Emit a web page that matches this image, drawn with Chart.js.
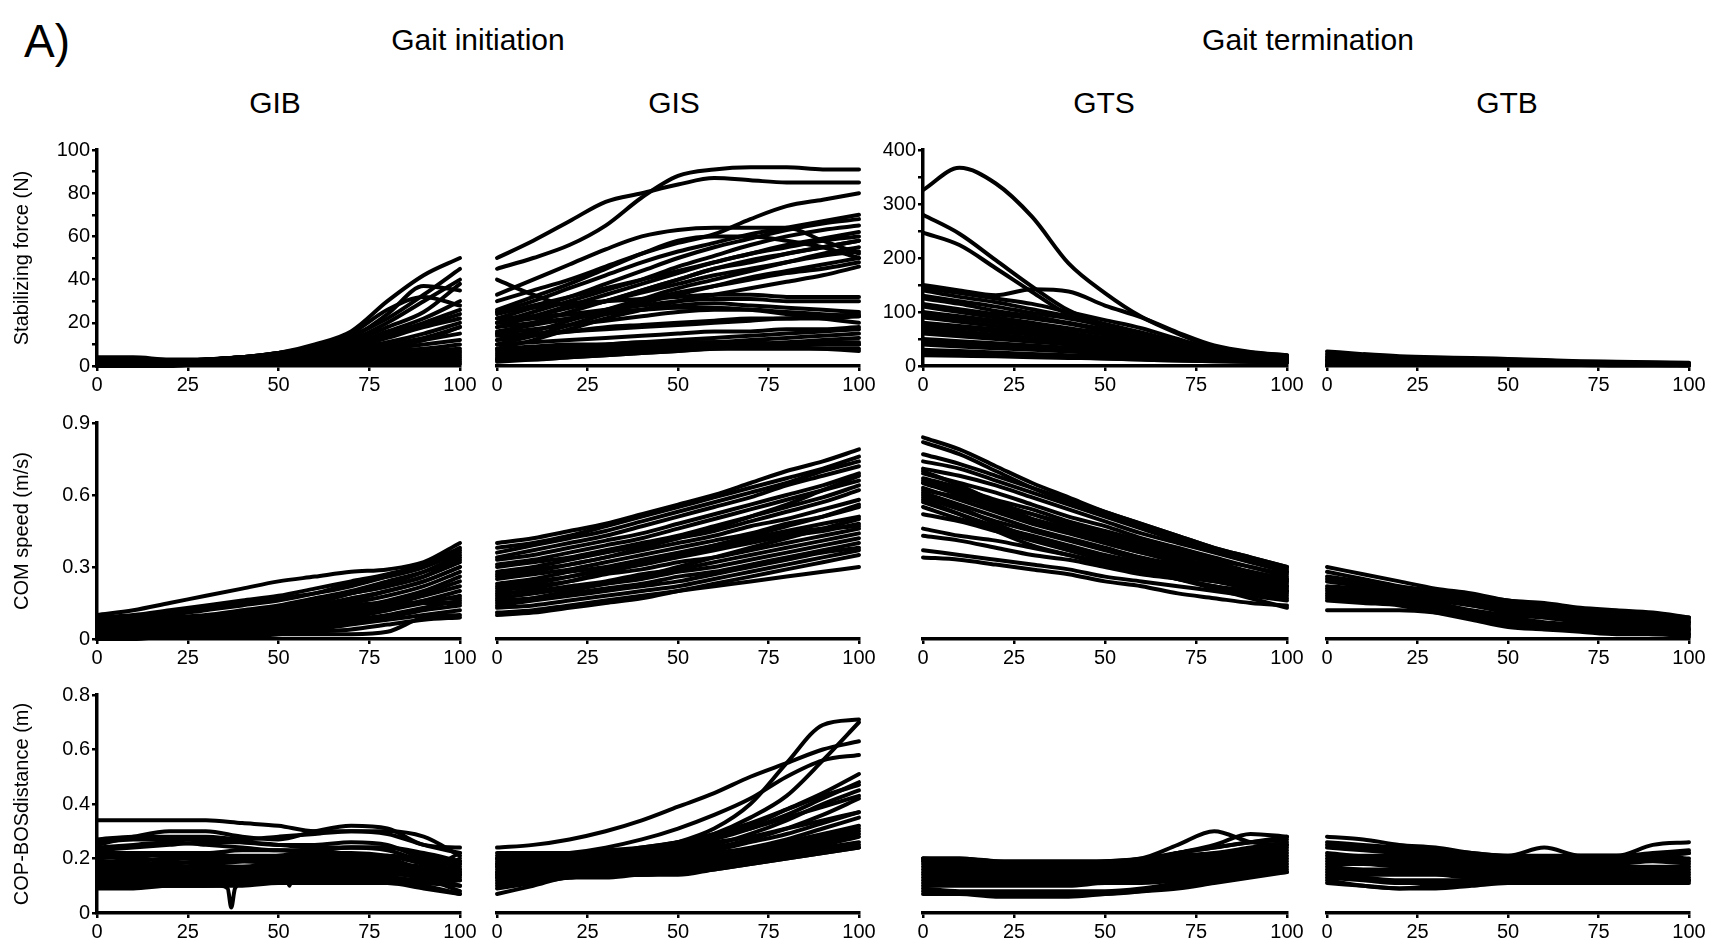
<!DOCTYPE html>
<html lang="en">
<head>
<meta charset="UTF-8">
<title>Gait initiation / termination</title>
<script src="https://cdn.jsdelivr.net/npm/chart.js"></script>
<style>
  body { margin: 0; background: #fff; }
  #fig { position: relative; width: 1722px; height: 950px; overflow: hidden;
         font-family: "Liberation Sans", Arial, sans-serif; color: #000; }
  .txt { position: absolute; line-height: 1; white-space: nowrap; }
  .mid { transform: translateX(-50%); }
  #fig canvas { position: absolute; }
</style>
</head>
<body>
<div id="fig">
  <div class="txt" style="left:24px; top:18px; font-size:46px;">A)</div>
  <div class="txt mid" style="left:478px; top:25px; font-size:30px;">Gait initiation</div>
  <div class="txt mid" style="left:1308px; top:25px; font-size:30px;">Gait termination</div>
  <div class="txt mid" style="left:275px; top:88px; font-size:30px;">GIB</div>
  <div class="txt mid" style="left:674px; top:88px; font-size:30px;">GIS</div>
  <div class="txt mid" style="left:1104px; top:88px; font-size:30px;">GTS</div>
  <div class="txt mid" style="left:1507px; top:88px; font-size:30px;">GTB</div>
</div>

<script>
// % of the phase, one sample every 10 %
const pct = [0, 10, 20, 30, 40, 50, 60, 70, 80, 90, 100];
const cycleTicks = [0, 25, 50, 75, 100];

const giForceTicks = [0, 20, 40, 60, 80, 100];
const giForceMinor = [10, 30, 50, 70, 90];
const gtForceTicks = [0, 100, 200, 300, 400];
const gtForceMinor = [50, 150, 250, 350];
const speedTicks = [0, 0.3, 0.6, 0.9];
const copTicks = [0, 0.2, 0.4, 0.6, 0.8];

// ---- stabilizing force (N) ----
const gibForce = [
  [3,3,2,3,4,6,10,16,30,42,50],
  [2,2,2,3,4,6,9,14,22,33,45],
  [3,3,2,3,4,6,9,15,26,32,28],
  [2,2,2,3,4,6,8,12,20,30,40],
  [2,2,2,3,4,5,8,13,24,37,35],
  [2,2,2,3,4,5,7,11,18,25,38],
  [2,2,2,2,3,5,7,10,16,22,30],
  [2,2,2,2,3,4,6,10,15,20,26],
  [2,2,2,2,3,4,6,9,14,19,24],
  [2,2,2,2,3,4,5,8,13,18,22],
  [1,1,1,2,3,4,5,8,11,15,20],
  [1,1,1,2,2,3,5,7,10,13,18],
  [1,1,1,2,2,3,4,6,9,12,15],
  [1,1,1,2,2,3,4,6,8,10,12],
  [1,1,1,2,2,3,4,5,7,8,10],
  [1,1,1,1,2,3,3,4,6,7,8],
  [1,1,1,1,2,2,3,4,5,6,7],
  [1,1,1,1,2,2,3,3,4,5,6],
  [1,1,1,1,1,2,2,3,4,4,5],
  [1,1,1,1,1,2,2,3,3,4,4],
  [1,1,1,1,1,1,2,2,3,3,3],
  [0,0,1,1,1,1,1,2,2,2,2],
  [0,0,0,1,1,1,1,1,1,1,1],
  [4,4,3,3,4,5,6,8,9,12,18]
];
const gisForce = [
  [45,50,56,65,78,88,91,92,92,91,91],
  [50,58,67,76,80,84,87,86,85,85,85],
  [30,35,40,46,52,57,61,68,74,77,80],
  [40,33,28,30,35,40,45,48,52,55,58],
  [33,40,47,54,60,63,64,64,64,58,52],
  [26,32,38,45,52,58,60,60,58,55,50],
  [25,30,36,42,48,53,57,61,64,67,70],
  [22,27,32,38,44,50,55,59,63,66,68],
  [20,25,30,35,40,46,51,56,60,63,65],
  [18,23,28,33,38,43,48,52,56,59,62],
  [24,28,32,36,40,44,48,52,55,58,60],
  [15,20,25,30,35,40,45,49,52,55,58],
  [12,16,21,26,31,36,40,44,48,52,55],
  [20,23,27,30,34,38,42,45,48,51,53],
  [10,14,19,24,29,33,37,41,44,47,50],
  [16,19,22,26,30,34,37,40,43,45,48],
  [8,12,17,22,26,30,33,36,39,42,46],
  [25,27,29,30,31,32,33,33,32,32,32],
  [20,22,24,26,28,30,31,31,30,30,30],
  [18,20,22,24,26,28,29,28,27,26,25],
  [15,17,19,21,23,25,26,26,25,24,23],
  [22,23,24,25,26,27,27,26,24,22,20],
  [14,15,16,17,18,19,20,21,22,22,23],
  [12,14,16,18,19,20,21,22,22,23,24],
  [10,11,12,13,14,15,16,16,17,17,18],
  [7,8,9,10,11,12,13,14,15,16,17],
  [5,6,7,8,9,10,11,12,13,14,15],
  [3,4,5,6,7,8,9,10,11,12,13],
  [6,7,8,9,10,11,11,11,10,10,10],
  [3,3,4,5,6,7,8,8,8,8,8],
  [4,5,6,7,8,9,10,10,9,8,7],
  [2,3,4,5,6,7,8,9,10,11,11],
  [8,9,10,10,11,11,11,10,10,10,10]
];
const gtsForce = [
  [326,367,338,276,190,135,91,60,35,25,20],
  [280,245,196,147,103,76,57,42,30,22,18],
  [247,224,181,137,95,73,55,40,28,20,16],
  [150,140,131,142,138,112,90,62,38,26,20],
  [145,135,125,115,100,85,70,50,32,22,18],
  [140,128,118,105,92,78,62,45,30,20,16],
  [130,120,110,98,88,75,60,44,30,20,15],
  [125,115,102,92,80,68,55,42,28,18,14],
  [115,105,96,88,78,65,52,38,25,17,13],
  [110,100,90,80,70,60,48,35,24,16,12],
  [100,92,84,76,68,58,46,34,22,15,12],
  [95,88,80,72,62,52,42,30,20,14,11],
  [90,82,74,66,58,48,38,28,19,13,10],
  [80,74,68,62,55,46,36,26,18,12,10],
  [75,70,64,58,50,42,34,25,17,12,9],
  [70,64,58,52,46,40,32,24,16,11,9],
  [65,60,55,50,44,37,30,22,15,11,8],
  [60,55,50,45,40,34,28,20,14,10,8],
  [50,46,42,38,34,30,25,18,13,10,8],
  [45,42,38,34,30,26,22,16,12,9,7],
  [40,36,33,30,27,23,19,15,11,9,7],
  [30,28,25,22,20,18,15,12,10,8,7],
  [25,22,20,18,16,14,12,10,9,8,7],
  [20,19,18,16,15,14,12,10,9,8,7]
];
const gtbForce = [
  [27,22,18,16,15,13,11,9,8,7,6],
  [22,19,16,14,13,12,10,8,7,6,5],
  [18,16,14,12,11,10,9,7,6,5,4],
  [15,13,12,11,10,9,8,6,5,4,4],
  [12,11,10,9,8,7,6,5,4,3,3],
  [10,9,8,7,7,6,5,4,3,3,2],
  [8,7,6,6,5,5,4,3,3,2,2],
  [5,5,4,4,4,3,3,2,2,2,1],
  [3,3,3,3,2,2,2,2,1,1,1]
];

// ---- COM speed (m/s) ----
const gibSpeed = [
  [0.10,0.12,0.15,0.18,0.21,0.24,0.26,0.28,0.29,0.32,0.40],
  [0.09,0.10,0.12,0.14,0.16,0.18,0.21,0.24,0.27,0.31,0.38],
  [0.08,0.09,0.11,0.13,0.15,0.17,0.19,0.22,0.26,0.30,0.36],
  [0.10,0.08,0.07,0.08,0.10,0.12,0.15,0.19,0.23,0.28,0.35],
  [0.07,0.07,0.08,0.09,0.11,0.13,0.16,0.19,0.22,0.26,0.32],
  [0.06,0.06,0.07,0.08,0.09,0.11,0.13,0.16,0.20,0.24,0.30],
  [0.05,0.05,0.06,0.07,0.08,0.10,0.12,0.15,0.18,0.22,0.28],
  [0.04,0.04,0.05,0.06,0.07,0.09,0.11,0.13,0.16,0.20,0.26],
  [0.05,0.04,0.04,0.05,0.06,0.08,0.10,0.12,0.15,0.19,0.24],
  [0.03,0.03,0.04,0.04,0.05,0.07,0.09,0.11,0.14,0.18,0.22],
  [0.03,0.03,0.03,0.04,0.05,0.06,0.08,0.10,0.13,0.16,0.20],
  [0.02,0.02,0.03,0.03,0.04,0.05,0.07,0.09,0.12,0.15,0.18],
  [0.02,0.02,0.02,0.03,0.03,0.04,0.06,0.08,0.10,0.13,0.16],
  [0.01,0.01,0.02,0.02,0.03,0.04,0.05,0.07,0.09,0.12,0.14],
  [0.01,0.01,0.01,0.02,0.02,0.03,0.04,0.06,0.08,0.10,0.12],
  [0.02,0.02,0.02,0.02,0.02,0.02,0.02,0.02,0.03,0.09,0.10],
  [0.00,0.00,0.01,0.01,0.01,0.02,0.03,0.04,0.06,0.08,0.09],
  [0.06,0.06,0.07,0.08,0.10,0.12,0.15,0.19,0.22,0.26,0.34],
  [0.08,0.09,0.10,0.12,0.14,0.16,0.19,0.23,0.26,0.30,0.37],
  [0.04,0.05,0.06,0.08,0.10,0.12,0.14,0.17,0.20,0.24,0.30],
  [0.07,0.08,0.09,0.10,0.12,0.14,0.17,0.20,0.24,0.28,0.33],
  [0.05,0.05,0.05,0.06,0.07,0.09,0.12,0.14,0.15,0.15,0.15],
  [0.03,0.03,0.04,0.05,0.06,0.07,0.08,0.10,0.12,0.16,0.17]
];
const gisSpeed = [
  [0.40,0.42,0.45,0.48,0.52,0.56,0.60,0.65,0.70,0.74,0.79],
  [0.38,0.40,0.43,0.47,0.51,0.55,0.59,0.63,0.67,0.71,0.76],
  [0.36,0.39,0.42,0.45,0.49,0.53,0.57,0.61,0.65,0.70,0.74],
  [0.34,0.37,0.40,0.43,0.47,0.51,0.55,0.59,0.64,0.68,0.72],
  [0.33,0.35,0.38,0.41,0.44,0.48,0.52,0.56,0.60,0.64,0.69],
  [0.31,0.33,0.36,0.39,0.42,0.46,0.50,0.54,0.58,0.62,0.66],
  [0.30,0.32,0.34,0.37,0.40,0.43,0.47,0.51,0.55,0.59,0.64],
  [0.28,0.30,0.33,0.36,0.39,0.42,0.45,0.49,0.53,0.57,0.62],
  [0.27,0.29,0.31,0.34,0.37,0.40,0.43,0.47,0.50,0.54,0.58],
  [0.25,0.27,0.29,0.32,0.35,0.38,0.41,0.44,0.48,0.51,0.55],
  [0.23,0.25,0.28,0.30,0.33,0.36,0.39,0.42,0.45,0.48,0.51],
  [0.22,0.24,0.26,0.29,0.31,0.34,0.37,0.40,0.43,0.45,0.48],
  [0.20,0.22,0.24,0.27,0.29,0.32,0.34,0.37,0.40,0.43,0.46],
  [0.19,0.20,0.22,0.24,0.27,0.29,0.32,0.35,0.38,0.41,0.44],
  [0.17,0.19,0.21,0.23,0.25,0.28,0.30,0.33,0.36,0.39,0.42],
  [0.16,0.17,0.19,0.21,0.23,0.26,0.28,0.31,0.34,0.37,0.40],
  [0.14,0.16,0.18,0.20,0.22,0.24,0.27,0.30,0.33,0.36,0.38],
  [0.13,0.14,0.16,0.18,0.20,0.22,0.25,0.28,0.31,0.34,0.37],
  [0.11,0.12,0.14,0.16,0.18,0.20,0.22,0.24,0.26,0.28,0.30],
  [0.10,0.11,0.13,0.15,0.17,0.20,0.23,0.26,0.29,0.32,0.35],
  [0.26,0.28,0.31,0.34,0.38,0.42,0.46,0.51,0.56,0.62,0.68],
  [0.21,0.23,0.26,0.29,0.32,0.35,0.38,0.41,0.44,0.46,0.47],
  [0.15,0.17,0.20,0.23,0.26,0.30,0.34,0.38,0.42,0.46,0.50],
  [0.18,0.21,0.24,0.28,0.31,0.35,0.39,0.43,0.47,0.51,0.56]
];
const gtsSpeed = [
  [0.84,0.79,0.72,0.65,0.59,0.53,0.48,0.43,0.38,0.34,0.30],
  [0.82,0.77,0.70,0.63,0.57,0.52,0.47,0.42,0.37,0.33,0.29],
  [0.77,0.73,0.68,0.63,0.58,0.53,0.48,0.43,0.38,0.34,0.30],
  [0.74,0.71,0.66,0.61,0.56,0.51,0.46,0.41,0.37,0.33,0.28],
  [0.71,0.68,0.64,0.59,0.54,0.49,0.44,0.40,0.36,0.32,0.28],
  [0.69,0.65,0.61,0.56,0.51,0.47,0.42,0.38,0.34,0.30,0.27],
  [0.67,0.63,0.58,0.54,0.49,0.45,0.41,0.37,0.33,0.30,0.26],
  [0.65,0.61,0.56,0.52,0.47,0.43,0.39,0.35,0.32,0.28,0.25],
  [0.63,0.58,0.53,0.48,0.44,0.40,0.36,0.33,0.29,0.27,0.24],
  [0.61,0.56,0.51,0.46,0.42,0.38,0.34,0.31,0.28,0.25,0.23],
  [0.59,0.54,0.49,0.45,0.41,0.37,0.33,0.30,0.27,0.24,0.22],
  [0.57,0.52,0.47,0.43,0.39,0.35,0.32,0.29,0.26,0.23,0.21],
  [0.55,0.50,0.46,0.42,0.38,0.34,0.31,0.28,0.25,0.23,0.20],
  [0.52,0.49,0.45,0.41,0.37,0.33,0.30,0.27,0.24,0.22,0.20],
  [0.46,0.43,0.41,0.38,0.35,0.32,0.29,0.26,0.24,0.21,0.19],
  [0.43,0.41,0.38,0.35,0.33,0.30,0.27,0.25,0.22,0.20,0.18],
  [0.37,0.35,0.33,0.31,0.29,0.26,0.24,0.22,0.20,0.18,0.16],
  [0.34,0.33,0.31,0.29,0.27,0.24,0.22,0.19,0.17,0.15,0.14],
  [0.60,0.55,0.48,0.42,0.37,0.33,0.29,0.25,0.21,0.17,0.13],
  [0.65,0.60,0.54,0.49,0.45,0.41,0.37,0.33,0.29,0.26,0.22],
  [0.58,0.52,0.45,0.39,0.35,0.31,0.28,0.25,0.22,0.19,0.17],
  [0.70,0.64,0.57,0.50,0.45,0.40,0.36,0.32,0.28,0.24,0.20],
  [0.62,0.59,0.55,0.50,0.46,0.42,0.38,0.34,0.30,0.27,0.24],
  [0.66,0.62,0.57,0.52,0.48,0.44,0.40,0.36,0.31,0.28,0.25]
];
const gtbSpeed = [
  [0.30,0.27,0.24,0.21,0.19,0.16,0.15,0.13,0.12,0.11,0.09],
  [0.28,0.25,0.22,0.20,0.18,0.16,0.14,0.12,0.11,0.10,0.09],
  [0.26,0.24,0.21,0.19,0.17,0.15,0.13,0.12,0.10,0.09,0.08],
  [0.24,0.22,0.20,0.18,0.16,0.14,0.12,0.11,0.10,0.08,0.07],
  [0.22,0.21,0.19,0.17,0.15,0.13,0.11,0.10,0.09,0.08,0.07],
  [0.21,0.20,0.18,0.16,0.14,0.12,0.10,0.09,0.08,0.07,0.06],
  [0.20,0.19,0.17,0.15,0.12,0.10,0.09,0.08,0.07,0.06,0.05],
  [0.19,0.18,0.17,0.14,0.11,0.09,0.07,0.06,0.05,0.05,0.04],
  [0.18,0.17,0.16,0.13,0.10,0.08,0.06,0.05,0.04,0.04,0.03],
  [0.17,0.16,0.15,0.12,0.09,0.06,0.05,0.04,0.03,0.03,0.02],
  [0.16,0.15,0.14,0.11,0.08,0.05,0.04,0.03,0.02,0.02,0.01],
  [0.12,0.12,0.12,0.11,0.09,0.07,0.05,0.04,0.03,0.02,0.02],
  [0.25,0.23,0.20,0.17,0.14,0.11,0.09,0.07,0.06,0.05,0.04]
];

// ---- COP-BOS distance (m) ----
const gibCop = [
  [0.34,0.34,0.34,0.34,0.33,0.32,0.30,0.30,0.29,0.25,0.22],
  [0.25,0.28,0.30,0.30,0.28,0.27,0.30,0.32,0.31,0.25,0.24],
  [0.27,0.28,0.28,0.28,0.27,0.28,0.29,0.30,0.30,0.28,0.21],
  [0.26,0.27,0.27,0.27,0.26,0.25,0.25,0.26,0.25,0.20,0.18],
  [0.24,0.25,0.26,0.25,0.24,0.23,0.23,0.24,0.24,0.21,0.19],
  [0.23,0.24,0.25,0.26,0.26,0.25,0.24,0.24,0.23,0.19,0.17],
  [0.22,0.22,0.22,0.22,0.23,0.23,0.22,0.22,0.21,0.18,0.15],
  [0.20,0.21,0.21,0.21,0.21,0.21,0.21,0.21,0.20,0.16,0.14],
  [0.19,0.19,0.20,0.20,0.20,0.20,0.20,0.20,0.19,0.15,0.12],
  [0.18,0.18,0.18,0.19,0.19,0.19,0.19,0.19,0.18,0.14,0.10],
  [0.17,0.17,0.17,0.17,0.17,0.18,0.18,0.18,0.17,0.13,0.08],
  [0.16,0.16,0.16,0.16,0.16,0.17,0.17,0.17,0.17,0.15,0.20],
  [0.15,0.15,0.15,0.15,0.15,0.16,0.16,0.16,0.16,0.16,0.22],
  [0.14,0.14,0.14,0.14,0.14,0.15,0.15,0.15,0.15,0.15,0.16],
  [0.13,0.13,0.13,0.13,0.13,0.14,0.14,0.14,0.14,0.14,0.15],
  [0.12,0.12,0.12,0.12,0.12,0.13,0.13,0.13,0.13,0.12,0.13],
  [0.11,0.11,0.11,0.11,0.12,0.12,0.12,0.12,0.12,0.11,0.10],
  [0.10,0.10,0.10,0.10,0.11,0.11,0.11,0.11,0.11,0.10,0.07],
  [0.09,0.09,0.10,0.10,0.10,0.11,0.11,0.11,0.11,0.09,0.07],
  [0.21,0.20,0.19,0.18,0.19,0.21,0.23,0.24,0.24,0.22,0.19],
  [0.18,0.20,0.22,0.22,0.20,0.18,0.18,0.19,0.21,0.20,0.18],
  [0.15,0.16,0.18,0.19,0.19,0.18,0.17,0.17,0.18,0.17,0.16],
  [0.14,0.15,0.16,0.17,0.17,0.16,0.16,0.17,0.17,0.16,0.14]
];
// two GIB traces with short dips, sampled more finely around the dip
const gibCopDipAx = [0,10,20,30,34,36,37,38,40,50,60,70,80,90,100];
const gibCopDipAy = [0.11,0.10,0.10,0.10,0.10,0.09,0.02,0.09,0.11,0.12,0.12,0.12,0.12,0.11,0.12];
const gibCopDipBx = [0,10,20,30,40,50,52,53,54,56,60,70,80,90,100];
const gibCopDipBy = [0.14,0.14,0.15,0.15,0.15,0.14,0.14,0.10,0.14,0.15,0.16,0.16,0.15,0.13,0.14];

const gisCop = [
  [0.24,0.25,0.27,0.30,0.34,0.39,0.44,0.50,0.55,0.60,0.63],
  [0.18,0.19,0.20,0.21,0.23,0.26,0.31,0.40,0.55,0.69,0.71],
  [0.17,0.18,0.19,0.21,0.23,0.25,0.29,0.35,0.43,0.56,0.70],
  [0.20,0.21,0.22,0.24,0.27,0.31,0.36,0.42,0.50,0.56,0.58],
  [0.19,0.20,0.21,0.22,0.23,0.25,0.28,0.32,0.38,0.44,0.51],
  [0.18,0.19,0.20,0.21,0.22,0.24,0.27,0.31,0.36,0.42,0.48],
  [0.17,0.18,0.19,0.20,0.21,0.23,0.25,0.29,0.34,0.40,0.45],
  [0.16,0.17,0.18,0.19,0.20,0.22,0.24,0.27,0.31,0.36,0.42],
  [0.15,0.16,0.17,0.18,0.19,0.21,0.23,0.26,0.29,0.33,0.37],
  [0.15,0.16,0.16,0.17,0.18,0.20,0.22,0.24,0.27,0.31,0.35],
  [0.14,0.15,0.15,0.16,0.17,0.19,0.21,0.23,0.26,0.29,0.32],
  [0.13,0.14,0.15,0.16,0.17,0.18,0.20,0.22,0.24,0.27,0.30],
  [0.12,0.13,0.14,0.15,0.16,0.17,0.19,0.21,0.23,0.25,0.28],
  [0.11,0.12,0.14,0.15,0.15,0.16,0.18,0.20,0.22,0.24,0.26],
  [0.10,0.12,0.13,0.14,0.14,0.15,0.17,0.19,0.21,0.23,0.25],
  [0.07,0.10,0.13,0.13,0.14,0.14,0.16,0.18,0.20,0.22,0.24],
  [0.09,0.11,0.13,0.14,0.14,0.15,0.16,0.18,0.20,0.22,0.24],
  [0.22,0.22,0.22,0.23,0.24,0.26,0.29,0.33,0.38,0.43,0.47],
  [0.21,0.21,0.22,0.22,0.24,0.26,0.28,0.31,0.35,0.39,0.43],
  [0.20,0.20,0.21,0.22,0.23,0.24,0.26,0.28,0.31,0.34,0.37],
  [0.14,0.14,0.15,0.15,0.16,0.17,0.19,0.22,0.25,0.28,0.31],
  [0.13,0.13,0.14,0.14,0.15,0.16,0.18,0.20,0.23,0.26,0.29]
];
const gtsCop = [
  [0.20,0.20,0.19,0.18,0.18,0.19,0.20,0.25,0.30,0.26,0.25],
  [0.19,0.19,0.18,0.18,0.18,0.18,0.19,0.22,0.25,0.29,0.28],
  [0.20,0.20,0.19,0.19,0.19,0.19,0.20,0.22,0.24,0.26,0.28],
  [0.19,0.18,0.18,0.17,0.17,0.18,0.19,0.21,0.22,0.24,0.26],
  [0.18,0.18,0.17,0.17,0.17,0.17,0.18,0.20,0.21,0.23,0.25],
  [0.17,0.17,0.16,0.16,0.16,0.17,0.17,0.19,0.20,0.22,0.24],
  [0.16,0.16,0.15,0.15,0.15,0.16,0.17,0.18,0.19,0.21,0.23],
  [0.15,0.15,0.15,0.15,0.15,0.15,0.16,0.17,0.18,0.20,0.22],
  [0.14,0.14,0.14,0.14,0.14,0.14,0.15,0.16,0.17,0.19,0.21],
  [0.13,0.13,0.13,0.13,0.13,0.14,0.14,0.15,0.16,0.18,0.20],
  [0.12,0.12,0.12,0.12,0.12,0.13,0.13,0.14,0.15,0.17,0.19],
  [0.11,0.11,0.11,0.11,0.11,0.12,0.12,0.13,0.15,0.16,0.18],
  [0.10,0.10,0.10,0.10,0.10,0.11,0.11,0.12,0.14,0.15,0.17],
  [0.09,0.08,0.08,0.08,0.08,0.08,0.09,0.11,0.13,0.14,0.16],
  [0.08,0.07,0.07,0.07,0.07,0.07,0.08,0.10,0.12,0.14,0.15],
  [0.07,0.07,0.06,0.06,0.06,0.07,0.08,0.09,0.11,0.13,0.15],
  [0.20,0.19,0.18,0.17,0.17,0.18,0.19,0.22,0.24,0.26,0.27]
];
const gtbCop = [
  [0.28,0.27,0.25,0.24,0.22,0.21,0.21,0.21,0.21,0.25,0.26],
  [0.26,0.25,0.24,0.23,0.22,0.21,0.24,0.21,0.21,0.22,0.23],
  [0.25,0.24,0.23,0.22,0.21,0.20,0.20,0.21,0.21,0.21,0.22],
  [0.24,0.23,0.22,0.21,0.20,0.20,0.20,0.20,0.20,0.21,0.20],
  [0.22,0.21,0.21,0.20,0.19,0.19,0.19,0.19,0.19,0.20,0.19],
  [0.20,0.20,0.19,0.19,0.18,0.18,0.18,0.18,0.18,0.19,0.18],
  [0.19,0.19,0.18,0.18,0.17,0.17,0.17,0.17,0.17,0.17,0.17],
  [0.18,0.18,0.17,0.17,0.16,0.16,0.16,0.16,0.16,0.16,0.16],
  [0.17,0.16,0.16,0.16,0.15,0.15,0.15,0.15,0.15,0.15,0.15],
  [0.16,0.15,0.15,0.15,0.14,0.14,0.14,0.14,0.14,0.14,0.14],
  [0.15,0.14,0.14,0.14,0.13,0.13,0.13,0.13,0.13,0.13,0.13],
  [0.14,0.13,0.12,0.12,0.12,0.12,0.12,0.12,0.12,0.12,0.12],
  [0.13,0.12,0.11,0.11,0.11,0.11,0.11,0.11,0.11,0.11,0.12],
  [0.12,0.10,0.09,0.10,0.11,0.11,0.11,0.11,0.11,0.11,0.11],
  [0.11,0.10,0.09,0.09,0.10,0.11,0.11,0.11,0.11,0.12,0.12],
  [0.21,0.20,0.20,0.19,0.18,0.18,0.19,0.19,0.20,0.21,0.22]
];

// panel placement on the page (plot area edges, px)
const colX = [[97, 460], [497, 859], [923, 1287], [1327, 1689]];
const rowY = [[150, 366], [423, 639], [695, 913]];
const AXW = 87, PADT = 14, PADR = 22, AXH = 42;

Chart.defaults.font.family = '"Liberation Sans", Arial, sans-serif';
Chart.defaults.font.size = 20;
Chart.defaults.color = '#000';

const forceGI = { min: 0, max: 100, major: giForceTicks, minor: giForceMinor };
const forceGT = { min: 0, max: 400, major: gtForceTicks, minor: gtForceMinor };
const speed = { min: 0, max: 0.9, major: speedTicks, minor: [] };
const cop = { min: 0, max: 0.8, major: copTicks, minor: [] };

const panels = [
  { row: 0, col: 0, curves: gibForce, axis: forceGI, showY: true, title: 'Stabilizing force (N)' },
  { row: 0, col: 1, curves: gisForce, axis: forceGI },
  { row: 0, col: 2, curves: gtsForce, axis: forceGT, showY: true },
  { row: 0, col: 3, curves: gtbForce, axis: forceGT },
  { row: 1, col: 0, curves: gibSpeed, axis: speed, showY: true, title: 'COM speed (m/s)' },
  { row: 1, col: 1, curves: gisSpeed, axis: speed },
  { row: 1, col: 2, curves: gtsSpeed, axis: speed },
  { row: 1, col: 3, curves: gtbSpeed, axis: speed },
  { row: 2, col: 0, curves: gibCop, axis: cop, showY: true, title: 'COP-BOSdistance (m)',
    extra: [[gibCopDipAx, gibCopDipAy], [gibCopDipBx, gibCopDipBy]] },
  { row: 2, col: 1, curves: gisCop, axis: cop },
  { row: 2, col: 2, curves: gtsCop, axis: cop },
  { row: 2, col: 3, curves: gtbCop, axis: cop }
];

const traceStyle = {
  borderColor: '#000', borderWidth: 4, pointRadius: 0,
  cubicInterpolationMode: 'monotone', borderJoinStyle: 'round', borderCapStyle: 'round', clip: false
};

const fig = document.getElementById('fig');

function makePanel(p) {
  const [x0, x1] = colX[p.col];
  const [y0, y1] = rowY[p.row];
  const w = x1 - x0 + AXW + PADR;
  const h = y1 - y0 + PADT + AXH;
  const cv = document.createElement('canvas');
  cv.width = w; cv.height = h;
  cv.style.left = (x0 - AXW) + 'px';
  cv.style.top = (y0 - PADT) + 'px';
  cv.style.width = w + 'px';
  cv.style.height = h + 'px';
  fig.appendChild(cv);

  const datasets = p.curves.map(c => ({ ...traceStyle, data: pct.map((x, i) => ({ x, y: c[i] })) }));
  (p.extra || []).forEach(([xs, ys]) => {
    datasets.push({ ...traceStyle, data: xs.map((x, i) => ({ x, y: ys[i] })) });
  });

  const a = p.axis;
  const show = !!p.showY;

  new Chart(cv, {
    type: 'line',
    data: { datasets },
    options: {
      responsive: false,
      animation: false,
      devicePixelRatio: 1,
      events: [],
      layout: { padding: { top: PADT, right: PADR, left: 0, bottom: 0 } },
      plugins: { legend: { display: false }, tooltip: { enabled: false } },
      scales: {
        x: {
          type: 'linear', min: 0, max: 100,
          afterFit: s => { s.height = AXH; },
          afterBuildTicks: s => { s.ticks = cycleTicks.map(v => ({ value: v })); },
          border: { display: true, color: '#000', width: 3.5 },
          grid: { display: true, drawOnChartArea: false, color: '#000', lineWidth: 2.5, tickLength: 5 },
          ticks: { padding: 2, maxRotation: 0, autoSkip: false, callback: v => String(v) }
        },
        y: {
          type: 'linear', min: a.min, max: a.max,
          afterFit: s => { s.width = AXW; },
          afterBuildTicks: s => {
            s.ticks = a.major.concat(a.minor).sort((m, n) => m - n).map(v => ({ value: v }));
          },
          border: { display: show, color: '#000', width: 3.5 },
          grid: { display: show, drawOnChartArea: false, color: '#000', lineWidth: 2.5, tickLength: 5 },
          ticks: {
            display: show, padding: 2, autoSkip: false,
            callback: v => (a.major.includes(v) ? String(v) : '')
          },
          title: {
            display: !!p.title, text: p.title || '', color: '#000',
            font: { size: 20 }, padding: { top: 0, bottom: 0 }
          }
        }
      }
    }
  });
}

panels.forEach(makePanel);
</script>
</body>
</html>
